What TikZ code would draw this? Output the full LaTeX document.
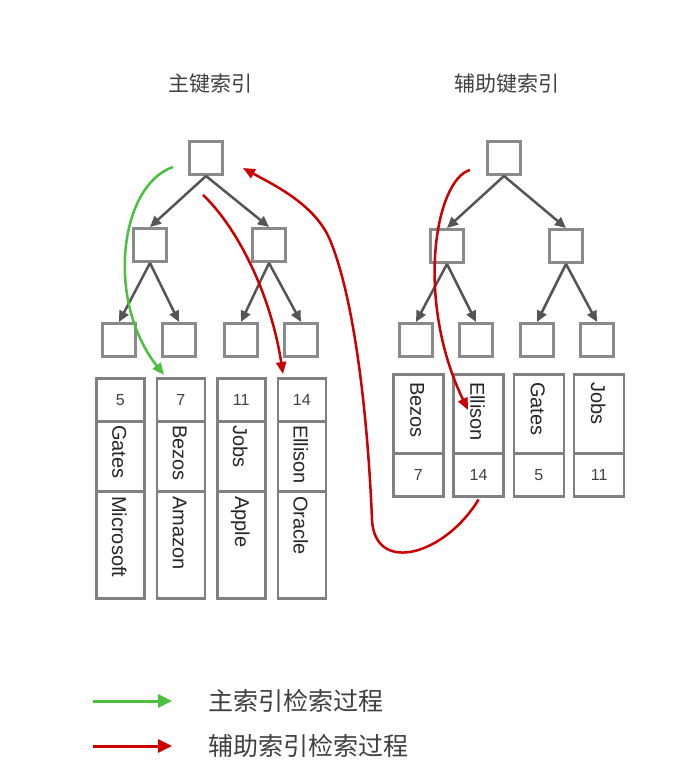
\documentclass[tikz,border=0pt]{standalone}
\usepackage{fontspec}
\setmainfont{Liberation Sans}
\newfontfamily\cjk{Noto Sans CJK SC}
\usetikzlibrary{arrows.meta}
\definecolor{boxgray}{HTML}{8A8A8A}
\definecolor{edgegray}{HTML}{555555}
\definecolor{cellgray}{HTML}{808080}
\definecolor{grn}{HTML}{4CBF40}
\definecolor{rd}{HTML}{CC0000}
\definecolor{txtgray}{HTML}{404040}
\begin{document}
\begin{tikzpicture}[x=1pt,y=-1pt,
  tbox/.style={draw=boxgray, line width=3pt, fill=white, minimum size=33pt, inner sep=0pt},
  tedge/.style={draw=edgegray, line width=2.5pt, -{Triangle[length=11pt,width=10pt]}},
  cell/.style={draw=cellgray, line width=2.5pt, inner sep=0pt, anchor=north west, font=\fontsize{16}{19}\selectfont, text=black!75},
  nm/.style={font=\fontsize{20}{24}\selectfont, rotate=-90, anchor=west, inner sep=0pt, text=black!85},
  flow/.style={line width=2.5pt, -{Triangle[length=12pt,width=10pt]}},
  title/.style={font=\cjk\fontsize{21}{24}\selectfont, text=txtgray},
  legtext/.style={font=\cjk\fontsize{25}{29}\selectfont, text=txtgray, anchor=west, inner sep=0pt},
  legarrow/.style={line width=3pt, -{Triangle[length=14pt,width=13pt]}}]
\useasboundingbox (0,0) rectangle (693,773);
\fill[white] (0,0) rectangle (693,773);

% titles
\node[title] (t1) at (210,84) {主键索引};
\node[title] (t2) at (507,84) {辅助键索引};

% left tree
\node[tbox] (lr) at (206,158) {};
\node[tbox] (la) at (150,245) {};
\node[tbox] (lb) at (269,245) {};
\node[tbox] (l1) at (119,340) {};
\node[tbox] (l2) at (179,340) {};
\node[tbox] (l3) at (241,340) {};
\node[tbox] (l4) at (301,340) {};
\draw[tedge] (lr.south) -- (la.north);
\draw[tedge] (lr.south) -- (lb.north);
\draw[tedge] (la.south) -- (l1.north);
\draw[tedge] (la.south) -- (l2.north);
\draw[tedge] (lb.south) -- (l3.north);
\draw[tedge] (lb.south) -- (l4.north);

% right tree
\node[tbox] (rr) at (504,158) {};
\node[tbox] (ra) at (447,246) {};
\node[tbox] (rb) at (566,246) {};
\node[tbox] (r1) at (416,340) {};
\node[tbox] (r2) at (476,340) {};
\node[tbox] (r3) at (537,340) {};
\node[tbox] (r4) at (597,340) {};
\draw[tedge] (rr.south) -- (ra.north);
\draw[tedge] (rr.south) -- (rb.north);
\draw[tedge] (ra.south) -- (r1.north);
\draw[tedge] (ra.south) -- (r2.north);
\draw[tedge] (rb.south) -- (r3.north);
\draw[tedge] (rb.south) -- (r4.north);

% left records
\foreach \n/\nmt/\co [count=\i from 0] in {5/Gates/Microsoft, 7/Bezos/Amazon, 11/Jobs/Apple, 14/Ellison/Oracle} {
  \node[cell, minimum width=48pt, minimum height=43pt] (ln\i) at ({95+60.5*\i},377) {\n};
  \node[cell, minimum width=48pt, minimum height=70pt] (lm\i) at ({95+60.5*\i},420) {};
  \node[nm] (lmt\i) at ([yshift=-5pt,xshift=-1pt]lm\i.north) {\nmt};
  \node[cell, minimum width=48pt, minimum height=107pt] (lc\i) at ({95+60.5*\i},490) {};
  \node[nm] (lct\i) at ([yshift=-6pt,xshift=-1pt]lc\i.north) {\co};
}

% right records
\foreach \nmt/\n [count=\i from 0] in {Bezos/7, Ellison/14, Gates/5, Jobs/11} {
  \node[cell, minimum width=50pt, minimum height=79pt] (rm\i) at ({392+60.3*\i},373) {};
  \node[nm] (rmt\i) at ([yshift=-9pt,xshift=-1pt]rm\i.north) {\nmt};
  \node[cell, minimum width=50pt, minimum height=43pt] (rn\i) at ({392+60.3*\i},452) {\n};
}

% flow curves
\coordinate (gs) at (173,167);
\coordinate (ge) at (164,375);
\draw[flow, grn] (gs) .. controls (120,185) and (105,300) .. (ge);

\coordinate (r1s) at (203,195);
\coordinate (r1e) at (283,374);
\draw[flow, rd] (r1s) .. controls (235,225) and (270,290) .. (r1e);

\coordinate (r3s) at (470,170);
\coordinate (r3e) at (468,410);
\draw[flow, rd] (r3s) .. controls (435,180) and (415,300) .. (r3e);

\coordinate (r2s) at ([yshift=-2pt]rn1.south);
\coordinate (r2m) at (372,520);
\coordinate (r2n) at (330,240);
\coordinate (r2e) at (243,168);
\draw[flow, rd] (r2s) .. controls (445,555) and (375,575) .. (r2m)
  .. controls (368,420) and (355,300) .. (r2n)
  .. controls (315,204) and (272,184) .. (r2e);

% legend
\coordinate (g1) at (93,701);
\coordinate (g2) at (172,701);
\draw[legarrow, grn] (g1) -- (g2);
\node[legtext] (lg1) at (208,701) {主索引检索过程};
\coordinate (q1) at (93,746);
\coordinate (q2) at (172,746);
\draw[legarrow, rd] (q1) -- (q2);
\node[legtext] (lg2) at (208,746) {辅助索引检索过程};
\end{tikzpicture}
\end{document}
